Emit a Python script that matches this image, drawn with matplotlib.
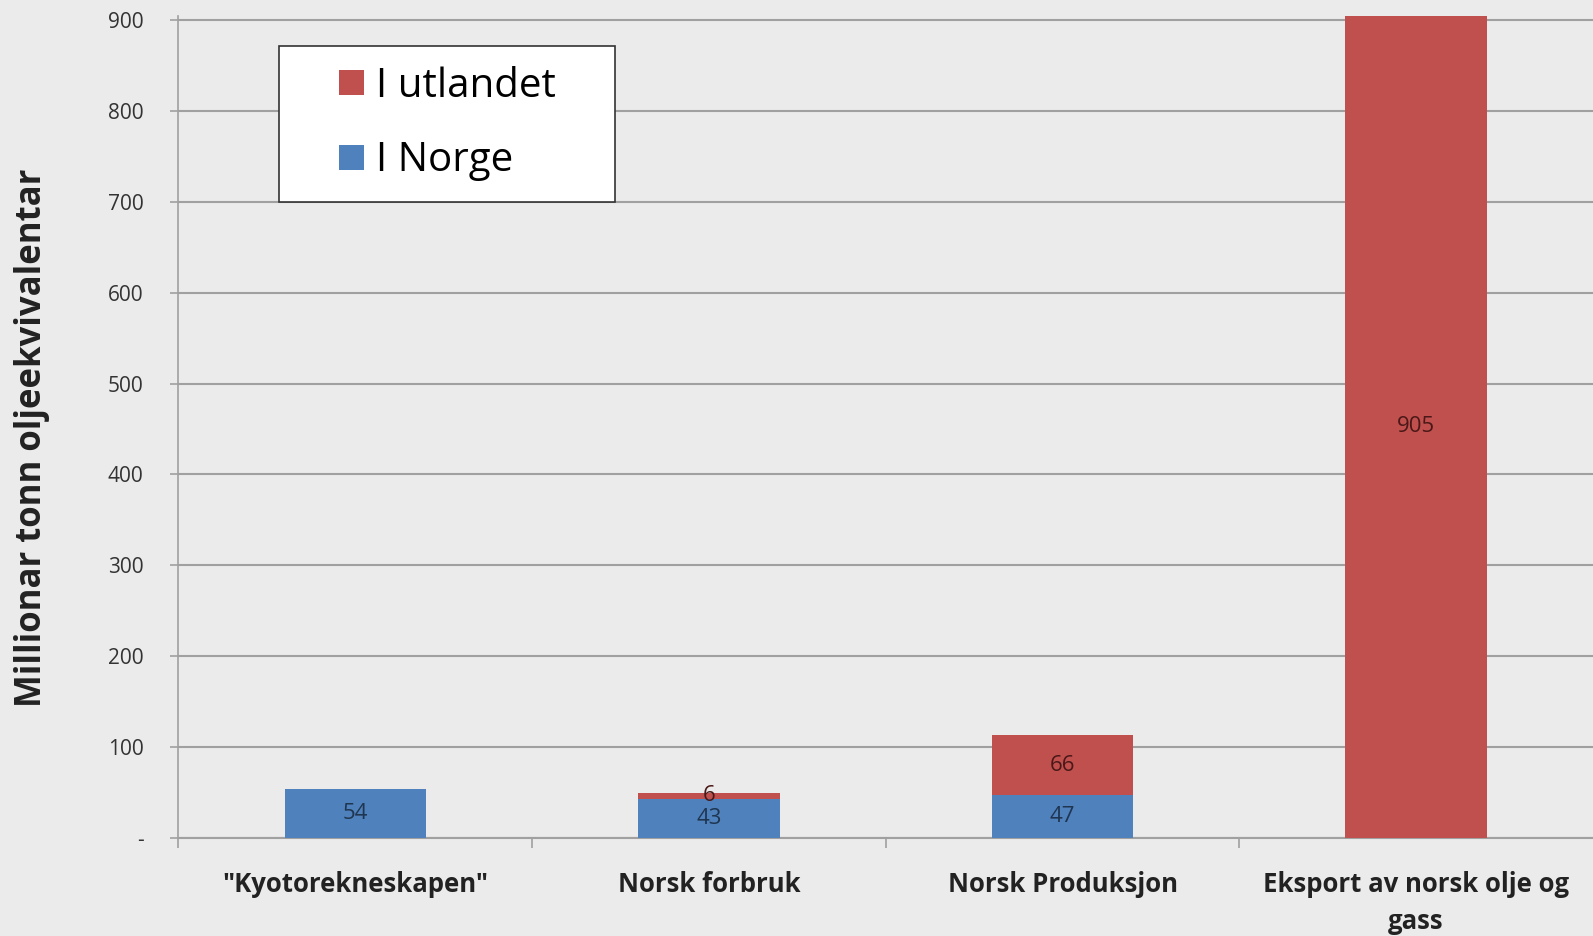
import numpy as np
import matplotlib
matplotlib.use("Agg")
import matplotlib.pyplot as plt
from matplotlib.patches import Rectangle
from matplotlib.legend_handler import HandlerPatch

# data
categories = ['"Kyotorekneskapen"', "Norsk forbruk", "Norsk Produksjon",
              "Eksport av norsk olje og\ngass"]
i_norge = [54, 43, 47, 0]
i_utlandet = [0, 6, 66, 905]
yticks = [0, 100, 200, 300, 400, 500, 600, 700, 800, 900]
ytick_labels = ["-"] + [str(v) for v in yticks[1:]]

blue = "#4f81bd"
red = "#c0504d"
bg = "#ebebeb"
grid_col = "#a0a0a0"

plt.rcParams["font.family"] = ["Open Sans", "DejaVu Sans"]

fig = plt.figure(figsize=(15.93, 9.36), dpi=100, facecolor=bg)
ax = fig.add_axes([0.112, 0.105, 0.888, 0.878])
ax.set_facecolor(bg)

x = np.arange(len(categories))
b1 = ax.bar(x, i_norge, width=0.4, color=blue, zorder=3)
b2 = ax.bar(x, i_utlandet, width=0.4, bottom=i_norge, color=red, zorder=3)

# value labels, skip empty segments
for bars, vals, col in [(b1, i_norge, "#1f3550"), (b2, i_utlandet, "#4a1818")]:
    labels = [str(v) if v > 0 else "" for v in vals]
    ax.bar_label(bars, labels=labels, label_type="center", fontsize=16, color=col, zorder=4)

ax.set_xlim(-0.5, 3.5)
ax.set_ylim(0, 905)
ax.set_yticks(yticks)
ax.set_yticklabels(ytick_labels, fontsize=15, color="#333333")
ax.yaxis.grid(True, color=grid_col, linewidth=1.5, zorder=0)
ax.tick_params(axis="y", length=6, color=grid_col, width=1.2, pad=19)

ax.set_xticks(x)
ax.set_xticklabels(categories, fontsize=18.5, fontweight="bold", color="#222222",
                   linespacing=1.45)
ax.set_xticks([-0.5, 0.5, 1.5, 2.5], minor=True)
ax.tick_params(axis="x", which="major", length=0, pad=24)
ax.tick_params(axis="x", which="minor", length=7, color=grid_col, width=1.2)

for s in ["top", "right"]:
    ax.spines[s].set_visible(False)
ax.spines["left"].set_color(grid_col)
ax.spines["left"].set_linewidth(1.2)
ax.spines["bottom"].set_color(grid_col)
ax.spines["bottom"].set_linewidth(1.5)

fig.text(0.0204, 0.532, "Millionar tonn oljeekvivalentar", rotation=90,
         fontsize=25, fontweight="bold", color="#222222", ha="center", va="center")


# small square handle sitting at the right end of the handle box
def square_patch(legend, orig_handle, xdescent, ydescent, width, height, fontsize):
    s = height * 0.9
    return Rectangle((-xdescent + width - s, -ydescent + (height - s) / 2), s, s)


# legend, red first (one patch from each series as handle)
leg = ax.legend([b2.patches[3], b1.patches[0]], ["I utlandet", "I Norge"], loc="upper left",
                bbox_to_anchor=(0.0714, 0.70, 0.2375, 0.2634), mode="expand",
                fontsize=29, frameon=True, fancybox=False, edgecolor="#333333",
                handlelength=1.6, handleheight=0.7, handletextpad=0.3,
                borderpad=0.5, labelspacing=0.85, borderaxespad=0,
                handler_map={Rectangle: HandlerPatch(patch_func=square_patch)})
leg.get_frame().set_linewidth(1.2)
leg.get_frame().set_facecolor("white")
leg.get_frame().set_alpha(1)
leg.set_zorder(5)

fig.savefig("out.png", dpi=100, facecolor=bg)
